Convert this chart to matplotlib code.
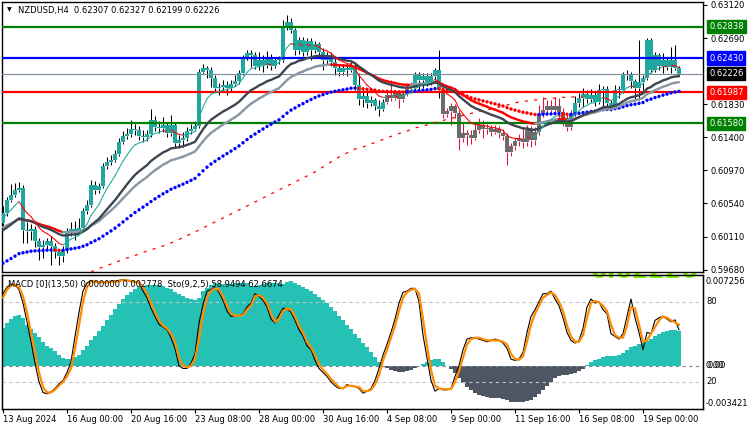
import matplotlib
matplotlib.use("Agg")
import matplotlib.pyplot as plt
from matplotlib.collections import LineCollection
from matplotlib.transforms import blended_transform_factory
import numpy as np

plt.rcParams['font.family'] = ['DejaVu Sans']

# ---------------- data ----------------
first_open = 0.60286
close = [0.60416, 0.60585, 0.6065, 0.60715, 0.60741, 0.60195, 0.60182, 0.60208, 0.60052, 0.59974,
         0.6, 0.60052, 0.59987, 0.59909, 0.59857, 0.59935, 0.60169, 0.60208, 0.60182, 0.60221,
         0.60442, 0.6052, 0.6078, 0.60715, 0.60767, 0.61027, 0.61079, 0.61105, 0.61183, 0.61339,
         0.61417, 0.61443, 0.61508, 0.61495, 0.61417, 0.61404, 0.61443, 0.61625, 0.61534, 0.61521,
         0.6156, 0.61456, 0.6156, 0.61326, 0.61365, 0.61391, 0.61482, 0.61508, 0.61547, 0.62249,
         0.62301, 0.62275, 0.62171, 0.62041, 0.62054, 0.6208, 0.62041, 0.62093, 0.62132, 0.62236,
         0.62431, 0.62496, 0.6247, 0.62327, 0.62405, 0.6234, 0.62431, 0.62327, 0.62405, 0.62405,
         0.62834, 0.62899, 0.62795, 0.62535, 0.62665, 0.62509, 0.62652, 0.62535, 0.62613, 0.62509,
         0.62405, 0.6247, 0.62379, 0.62301, 0.62249, 0.62301, 0.62275, 0.62327, 0.6208, 0.61898,
         0.61937, 0.61846, 0.61885, 0.61807, 0.61768, 0.61859, 0.6195, 0.61911, 0.61976, 0.61898,
         0.61963, 0.62054, 0.62041, 0.62223, 0.62145, 0.62197, 0.62119, 0.62197, 0.62275, 0.62015,
         0.61703, 0.61742, 0.61807, 0.61716, 0.61391, 0.61456, 0.6143, 0.61391, 0.61495, 0.6156,
         0.61508, 0.61521, 0.61469, 0.61508, 0.61456, 0.61417, 0.61209, 0.61287, 0.61352, 0.61378,
         0.61339, 0.61495, 0.61365, 0.61469, 0.61703, 0.61755, 0.61807, 0.61755, 0.61807, 0.61729,
         0.61599, 0.61534, 0.61703, 0.61846, 0.61911, 0.61963, 0.61898, 0.6195, 0.61859, 0.62015,
         0.62028, 0.61846, 0.61794, 0.62015, 0.62015, 0.6221, 0.62223, 0.62132, 0.62041, 0.62119,
         0.62171, 0.62665, 0.62275, 0.6247, 0.62327, 0.62405, 0.62314, 0.62405, 0.62307, 0.62226]
high = [0.60507, 0.60624, 0.60793, 0.60806, 0.60819, 0.6078, 0.60299, 0.60273, 0.60247, 0.60091,
        0.60065, 0.60091, 0.60117, 0.60026, 0.59948, 0.59987, 0.60221, 0.60299, 0.60312, 0.60351,
        0.60481, 0.60585, 0.60845, 0.60832, 0.60806, 0.61066, 0.61144, 0.6117, 0.61235, 0.61391,
        0.61482, 0.61521, 0.61625, 0.61573, 0.61547, 0.61495, 0.61495, 0.61768, 0.61677, 0.61612,
        0.61664, 0.61599, 0.6169, 0.61599, 0.6143, 0.61469, 0.61534, 0.61573, 0.61612, 0.62288,
        0.62353, 0.62327, 0.62314, 0.6221, 0.62106, 0.62145, 0.62132, 0.62145, 0.6221, 0.62275,
        0.6247, 0.62535, 0.62535, 0.62509, 0.62509, 0.6247, 0.62522, 0.62483, 0.62444, 0.62457,
        0.62925, 0.6299, 0.62951, 0.62821, 0.62704, 0.62704, 0.62691, 0.62691, 0.62652, 0.62639,
        0.62561, 0.62509, 0.62509, 0.62431, 0.6234, 0.6234, 0.62353, 0.62379, 0.62379, 0.62236,
        0.62041, 0.61989, 0.61937, 0.61911, 0.61885, 0.61898, 0.61989, 0.62145, 0.62015, 0.62015,
        0.62002, 0.62093, 0.62119, 0.62249, 0.62249, 0.62236, 0.62236, 0.62236, 0.62301, 0.62535,
        0.62041, 0.61781, 0.61846, 0.61833, 0.61755, 0.61586, 0.61495, 0.61495, 0.61573, 0.61651,
        0.61625, 0.61573, 0.6156, 0.6156, 0.61547, 0.61508, 0.61456, 0.61326, 0.61391, 0.61443,
        0.61534, 0.6156, 0.61547, 0.61534, 0.6182, 0.61924, 0.61885, 0.61885, 0.61924, 0.61911,
        0.61781, 0.6169, 0.61755, 0.61937, 0.61976, 0.62041, 0.62015, 0.62028, 0.61989, 0.62093,
        0.62067, 0.62067, 0.61885, 0.6208, 0.62067, 0.62249, 0.62275, 0.62249, 0.62158, 0.62665,
        0.6221, 0.62691, 0.62691, 0.62509, 0.62496, 0.62496, 0.62431, 0.62574, 0.626, 0.62327]
low = [0.60247, 0.60377, 0.60559, 0.60624, 0.60689, 0.60026, 0.60026, 0.60065, 0.59974, 0.59805,
       0.59831, 0.59948, 0.5974, 0.59831, 0.5974, 0.59779, 0.59896, 0.60117, 0.60065, 0.60143,
       0.60195, 0.60403, 0.60494, 0.60663, 0.60676, 0.60741, 0.60988, 0.6104, 0.61079, 0.61157,
       0.61313, 0.61378, 0.61404, 0.6143, 0.61365, 0.61339, 0.61352, 0.61404, 0.61482, 0.61456,
       0.61469, 0.61404, 0.61417, 0.61274, 0.61261, 0.61274, 0.61352, 0.61443, 0.61482, 0.61521,
       0.62223, 0.62171, 0.62054, 0.61989, 0.6195, 0.61989, 0.6195, 0.62002, 0.62067, 0.62093,
       0.6221, 0.62405, 0.62314, 0.62288, 0.62275, 0.62249, 0.62301, 0.62275, 0.62301, 0.62353,
       0.62379, 0.62795, 0.62756, 0.6247, 0.62483, 0.62457, 0.6247, 0.62405, 0.62496, 0.62457,
       0.62275, 0.62353, 0.62327, 0.6221, 0.62197, 0.6221, 0.62197, 0.62249, 0.62015, 0.6182,
       0.61794, 0.61781, 0.61807, 0.61755, 0.61677, 0.61742, 0.61833, 0.61872, 0.61885, 0.61781,
       0.61859, 0.61937, 0.61989, 0.62015, 0.61989, 0.62041, 0.62067, 0.6208, 0.62145, 0.61911,
       0.61651, 0.61664, 0.6156, 0.61651, 0.61235, 0.61339, 0.613, 0.61313, 0.61365, 0.61456,
       0.61391, 0.61443, 0.61417, 0.61443, 0.61391, 0.61365, 0.6104, 0.61157, 0.61235, 0.61287,
       0.61261, 0.61287, 0.61274, 0.613, 0.6143, 0.61664, 0.61716, 0.61703, 0.61729, 0.61651,
       0.61547, 0.61482, 0.61495, 0.61677, 0.61794, 0.61794, 0.61846, 0.61859, 0.61807, 0.61833,
       0.61755, 0.61794, 0.61742, 0.61768, 0.61911, 0.61976, 0.62145, 0.62041, 0.61885, 0.61885,
       0.62015, 0.62145, 0.62236, 0.62249, 0.62275, 0.62236, 0.62275, 0.62236, 0.62275, 0.62199]

# bars drawn in the grey "bear" colouring (index ranges, inclusive)
bear_zones = [(96, 102), (110, 142)]

# moving-average settings: (period, starting value read at the first bar)
fast_ma = (8, 0.6033)
mid_ma = (21, 0.6017)
slow_ma = (30, 0.6022)
dot_ma = (55, 0.5974)

# long red dashed average, starting at bar 22
dashed_start = 22
dashed_ma = [0.59649, 0.59675, 0.59695, 0.59714, 0.59734, 0.59753, 0.59773, 0.59792, 0.59812, 0.59831,
             0.59844, 0.59864, 0.59883, 0.59903, 0.59922, 0.59935, 0.59955, 0.59968, 0.59987, 0.60007,
             0.60026, 0.60052, 0.60072, 0.60098, 0.60124, 0.60143, 0.60169, 0.60195, 0.60221, 0.60247,
             0.60273, 0.60299, 0.60325, 0.60351, 0.60377, 0.60403, 0.60429, 0.60455, 0.60481, 0.60507,
             0.60533, 0.60559, 0.60585, 0.60611, 0.60637, 0.60663, 0.60689, 0.60715, 0.60741, 0.60767,
             0.60793, 0.60819, 0.60845, 0.60871, 0.60897, 0.60923, 0.60949, 0.60982, 0.61014, 0.61047,
             0.61079, 0.61112, 0.61144, 0.6117, 0.61196, 0.61222, 0.61248, 0.61261, 0.61274, 0.61294,
             0.61313, 0.61333, 0.61352, 0.61372, 0.61391, 0.61411, 0.6143, 0.6145, 0.61463, 0.61482,
             0.61502, 0.61521, 0.61534, 0.61547, 0.6156, 0.61573, 0.61593, 0.61606, 0.61619, 0.61632,
             0.61645, 0.61658, 0.61671, 0.61684, 0.61697, 0.6171, 0.61723, 0.61736, 0.61749, 0.61755,
             0.61768, 0.61781, 0.61794, 0.61807, 0.6182, 0.61833, 0.61846, 0.61859, 0.61866, 0.61872,
             0.61879, 0.61885, 0.61892, 0.61898, 0.61905, 0.61911, 0.61911, 0.61918, 0.61918, 0.61924,
             0.61924, 0.61924, 0.61924, 0.61924]

macd_hist = [0.00302, 0.00343, 0.00375, 0.00401, 0.00409, 0.00383, 0.00329, 0.00294, 0.00262, 0.0023,
             0.00187, 0.00161, 0.00142, 0.00115, 0.00088, 0.00062, 0.00054, 0.00054, 0.0007, 0.00088,
             0.00123, 0.00155, 0.00203, 0.00241, 0.00281, 0.00321, 0.00369, 0.00409, 0.0045, 0.0049,
             0.0053, 0.00562, 0.00591, 0.0061, 0.00626, 0.00637, 0.00642, 0.00648, 0.00648, 0.00642,
             0.00637, 0.00624, 0.0061, 0.00591, 0.00575, 0.00557, 0.00543, 0.0053, 0.00525, 0.00543,
             0.00597, 0.00624, 0.00642, 0.00658, 0.0065, 0.0065, 0.0065, 0.00656, 0.00664, 0.00664,
             0.00658, 0.00664, 0.00637, 0.00637, 0.00642, 0.0065, 0.00658, 0.00664, 0.00664, 0.00658,
             0.0065, 0.00669, 0.00674, 0.00664, 0.00648, 0.00632, 0.00615, 0.00597, 0.00575, 0.00551,
             0.00525, 0.00498, 0.00468, 0.00436, 0.00401, 0.00364, 0.00329, 0.00294, 0.00257, 0.00219,
             0.00182, 0.00147, 0.0011, 0.0007, 0.00032, -0.00011, -0.00019, -0.00032, -0.00043, -0.00051,
             -0.00048, -0.0004, -0.00032, -0.00021, -0.00005, 0.00016, 0.00032, 0.00043, 0.00054, 0.00056,
             0.00027, 0.0, -0.00027, -0.00059, -0.00099, -0.00139, -0.00171, -0.00198, -0.00219, -0.00233,
             -0.00246, -0.00252, -0.00257, -0.0026, -0.00262, -0.00268, -0.00278, -0.00289, -0.00294, -0.00294,
             -0.00292, -0.00286, -0.00273, -0.00254, -0.00227, -0.00193, -0.00161, -0.00128, -0.00102, -0.00083,
             -0.00075, -0.00072, -0.0007, -0.00062, -0.00043, -0.00027, 0.00005, 0.00032, 0.00048, 0.00056,
             0.00067, 0.00075, 0.00078, 0.0008, 0.00088, 0.00102, 0.00123, 0.00147, 0.00161, 0.00171,
             0.00182, 0.00195, 0.00214, 0.00235, 0.00257, 0.00273, 0.00281, 0.00284, 0.00289, 0.00278]

sto_main = [86, 91, 93, 93, 89, 79, 65, 50, 34, 20,
            12, 11, 12.5, 15, 18.5, 21, 27, 35, 54, 72,
            88, 94, 96, 95, 94.5, 94.5, 94.5, 95.5, 95.5, 96,
            96.5, 96, 95, 95, 94, 88, 83, 75, 69, 63,
            61, 59, 53, 45, 32, 30, 30, 34, 41, 64,
            78, 88, 89, 91, 87, 81, 73, 69, 69.5, 69.5,
            71, 76, 79, 86, 84, 81, 76, 67, 64, 70,
            75, 75, 72, 66, 59, 54, 47, 44, 36, 30,
            27, 24, 20, 17, 15, 15, 18, 16.5, 16.5, 15,
            11.5, 13, 15, 21, 30, 40, 48, 57, 67, 79,
            87, 88, 90, 90, 80, 55, 38, 21, 13, 15,
            14, 14, 15, 24, 32, 44, 52, 53, 53, 52,
            51, 50, 51, 52, 51, 49, 45, 37, 36, 37,
            42, 57, 69, 74, 80, 86, 86, 88, 82, 77,
            68, 57, 51, 49, 51, 60, 76, 82, 79, 80,
            74, 71, 56, 54, 52, 56, 69, 82, 68, 57,
            44, 57, 56, 66, 68, 69, 67, 65, 66.39, 58.95]
sto_signal = [83, 89, 92, 92.5, 91, 84, 72, 57, 42, 27,
              16, 12, 12, 14, 17, 20, 24, 30, 45, 62,
              80, 91, 95, 95, 94.5, 94.5, 94.5, 95, 95, 95.5,
              96, 96, 95.5, 95, 94.5, 91, 86, 79, 72, 66,
              62, 60, 56, 50, 38, 32, 31, 32, 37, 52,
              70, 83, 88, 90, 89, 84, 77, 71, 69.5, 69.5,
              70, 74, 77, 84, 85, 83, 79, 71, 65, 67,
              73, 75, 74, 69, 62, 57, 50, 46, 40, 33,
              29, 26, 22, 19, 16, 15, 17, 17, 16.5, 16,
              13, 13, 14, 18, 25, 36, 44, 53, 62, 73,
              83, 87, 89, 89.5, 86, 67, 47, 29, 17, 15,
              14.5, 14.5, 14.5, 20, 28, 38, 48, 52, 53, 53,
              52, 51, 51, 51, 51, 50, 48, 41, 37, 36.5,
              39, 50, 63, 71, 77, 83, 85, 87, 85, 80,
              73, 62, 54, 50, 50, 55, 68, 79, 80.5, 79.5,
              77, 73, 63, 55, 53, 53, 62, 76, 75, 63,
              50, 51, 56, 61, 66, 69, 68, 66, 64.5, 62.67]

level_lines = [(0.62838, '#008000'), (0.62430, '#0000FF'), (0.61987, '#FF0000'), (0.61580, '#008000')]
last_price = 0.62226
price_ticks = [0.63120, 0.62690, 0.61830, 0.61400, 0.60970, 0.60540, 0.60110, 0.59680]
time_tick_bars = [0, 16, 32, 48, 64, 80, 96, 112, 128, 144, 160]
time_labels = ['13 Aug 2024', '16 Aug 00:00', '20 Aug 16:00', '23 Aug 08:00', '28 Aug 00:00',
               '30 Aug 16:00', '4 Sep 08:00', '9 Sep 00:00', '11 Sep 16:00', '16 Sep 08:00', '19 Sep 00:00']
header = 'NZDUSD,H4  0.62307 0.62327 0.62199 0.62226'
sub_header = 'MACD [0](13,50) 0.000000 0.002778  Sto(9,2,5) 58.9494 62.6674'
macd_top, macd_bottom = 0.007256, -0.003421
macd_labels = [('0.007256', 282), ('80', 302), ('0.00', 366), ('20', 382), ('-0.003421', 403)]

# ---------------- styling ----------------
FS = 6.0
TEAL = '#20A89F'
GREY_BODY = '#6B6B6B'
CRIMSON = '#DC143C'
HIST_UP = '#26C1B5'
HIST_DN = '#4E5663'

W, H = 750, 430
fig = plt.figure(figsize=(W / 100, H / 100), dpi=100)
fig.patch.set_facecolor('white')


def box(x0, y0, x1, y1):
    return [x0 / W, 1 - y1 / H, (x1 - x0) / W, (y1 - y0) / H]


ax = fig.add_axes(box(2, 1.5, 703, 272))
axm = fig.add_axes(box(2, 275, 703, 408.5))
axm.patch.set_alpha(0.0)
axs = axm.twinx()

n = len(close)
idx = np.arange(n)
c = np.array(close)
o = np.array([first_open] + close[:-1])
hi = np.array(high)
lo = np.array(low)
bear = np.zeros(n, bool)
for a, b in bear_zones:
    bear[a:b + 1] = True


def ema(vals, period, seed):
    k = 2.0 / (period + 1)
    out = []
    v = seed
    for x in vals:
        v = v + k * (x - v)
        out.append(v)
    return np.array(out)


# candles: wick above and below the body, then the body
body_top = np.maximum(o, c)
body_bot = np.minimum(o, c)
wick_cols = [CRIMSON if b else 'black' for b in bear]
ax.vlines(idx, body_top, hi, colors=wick_cols, lw=0.75, zorder=2)
ax.vlines(idx, lo, body_bot, colors=wick_cols, lw=0.75, zorder=2)
body_h = np.maximum(body_top - body_bot, 0.00009)
ax.bar(idx, body_h, bottom=body_bot, width=0.78,
       color=[GREY_BODY if b else TEAL for b in bear], linewidth=0, zorder=3, antialiased=False)

# horizontal levels
for val, col in level_lines:
    ax.axhline(val, color=col, lw=1.6, zorder=4)
ax.axhline(last_price, color='#7D8C9A', lw=0.8, zorder=4)

# long dashed average
dx = idx[dashed_start:dashed_start + len(dashed_ma)]
ax.plot(dx, dashed_ma, color='#FF0000', lw=0.9, dashes=(2.5, 5), zorder=5)

# dotted average (blue rising, red falling)
dm = ema(close, *dot_ma)
dcol = ['#0000FF'] + ['#0000FF' if dm[i] >= dm[i - 1] else '#FF0000' for i in range(1, n)]
ax.scatter(idx, dm, s=6, c=dcol, linewidths=0, zorder=6)


def slope_line(axis, y, up, dn, lw, z):
    pts = np.column_stack([idx, y])
    segs = np.stack([pts[:-1], pts[1:]], axis=1)
    cols = [up if y[i + 1] >= y[i] else dn for i in range(n - 1)]
    axis.add_collection(LineCollection(segs, colors=cols, linewidths=lw, zorder=z, capstyle='round'))


slope_line(ax, ema(close, *slow_ma), '#8A97A5', '#FF0000', 1.7, 7)
ax.plot(idx, ema(close, *mid_ma), color='#3D4550', lw=1.7, zorder=8, solid_capstyle='round')
slope_line(ax, ema(close, *fast_ma), '#1FA99F', '#FF0000', 0.75, 9)

ax.set_xlim(-0.25, 175)
ax.set_ylim(0.59649, 0.63165)
ax.set_xticks([])
ax.yaxis.tick_right()
ax.set_yticks(price_ticks)
ax.set_yticklabels([f'{t:.5f}' for t in price_ticks])
ax.tick_params(axis='y', length=3, width=0.8, pad=2.5, labelsize=FS, colors='black')
for s in ax.spines.values():
    s.set_linewidth(1.0)

# price boxes
tr = blended_transform_factory(ax.transAxes, ax.transData)
for val, col in level_lines[:2] + [(last_price, '#000000')] + level_lines[2:]:
    ax.text(1.0 + 6 / 701, val, f'{val:.5f}', transform=tr, ha='left', va='center',
            fontsize=FS, color='white', clip_on=False, zorder=30,
            bbox=dict(boxstyle='square,pad=0.25', fc=col, ec=col))

# header
fig.text(7 / W, 1 - 10 / H, '\u25BC', fontsize=4.5, va='center', ha='left')
fig.text(18 / W, 1 - 10 / H, header, fontsize=FS, va='center', ha='left')

# big last-price text drawn beneath the panels: the white price panel hides all but its lowest pixels
fig.text(645 / W, 1 - 278.5 / H, '0.62226', fontsize=17, fontweight='bold',
         color='#7CFC00', ha='center', va='baseline', zorder=-1)

# ---------------- MACD + Stochastic panel ----------------
hcol = [HIST_UP if v >= 0 else HIST_DN for v in macd_hist]
axm.bar(idx, macd_hist, width=0.78, color=hcol, linewidth=0, zorder=2, antialiased=False)
axm.axhline(0, color='#7F8790', lw=0.8, dashes=(3, 3), zorder=3)
axm.set_ylim(macd_bottom, macd_top)
axm.set_xlim(-0.25, 175)
axm.set_yticks([])
axm.set_xticks(time_tick_bars)
axm.set_xticklabels(time_labels, ha='left')
axm.tick_params(axis='x', length=3, width=0.8, pad=1.5, labelsize=FS, direction='out')
for s in axm.spines.values():
    s.set_linewidth(1.0)

axs.set_ylim(0, 100)
axs.set_yticks([])
for lv in (80, 20):
    axs.axhline(lv, color='#C3C3C3', lw=0.8, dashes=(3, 3), zorder=1)
axs.plot(idx, sto_main, color='black', lw=0.8, zorder=3)
axs.plot(idx, sto_signal, color='#FF8C00', lw=1.6, zorder=4)
axs.set_xlim(-0.25, 175)

fig.text(8 / W, 1 - 284 / H, sub_header, fontsize=FS, va='center', ha='left')

for txt, ypx in macd_labels:
    fig.text(706 / W, 1 - ypx / H, txt, fontsize=FS, va='center', ha='left')
fig.text(707 / W, 1 - 366 / H, '0.00', fontsize=FS, va='center', ha='left')

fig.savefig('out.png', dpi=100, facecolor='white')
